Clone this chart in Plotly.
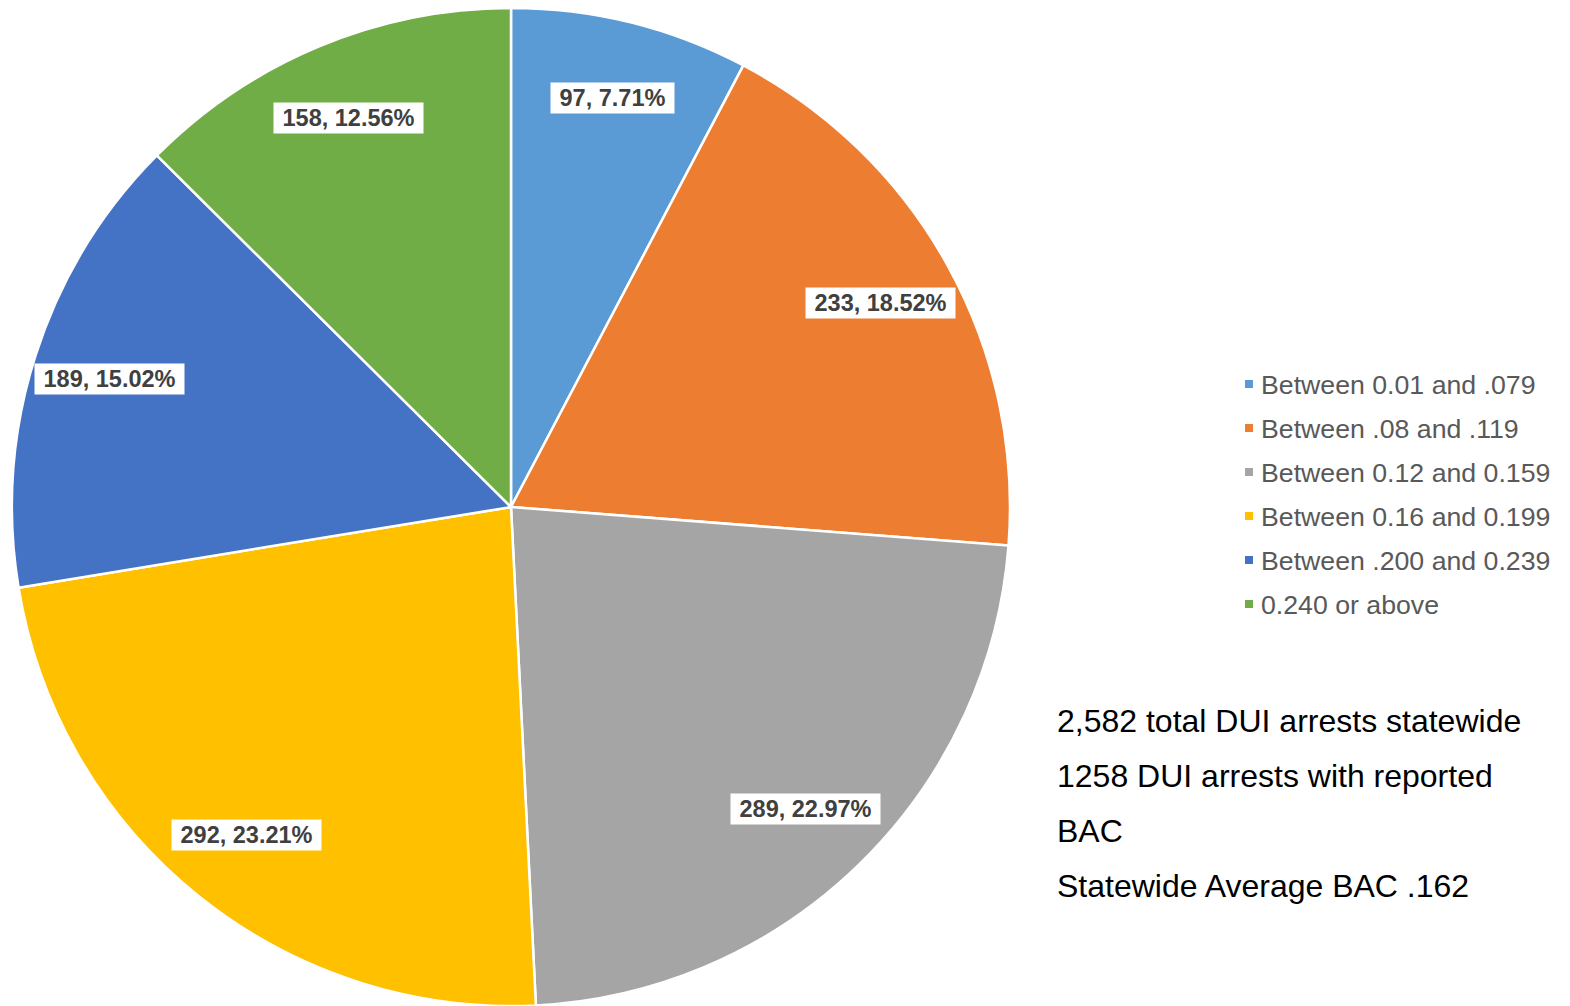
import math
import plotly.graph_objects as go

categories = ["Between 0.01 and .079", "Between .08 and .119", "Between 0.12 and 0.159",
              "Between 0.16 and 0.199", "Between .200 and 0.239", "0.240 or above"]
counts = [97, 233, 289, 292, 189, 158]
colors = ["#5B9BD5", "#ED7D31", "#A5A5A5", "#FFC000", "#4472C4", "#70AD47"]
notes = ["2,582 total DUI arrests statewide", "1258 DUI arrests with reported",
         "BAC", "Statewide Average BAC .162"]

OFF = 8  # page body margin
W, H = 1570 - OFF, 1006 - OFF
R = H / 2
cx, cy = 511 - OFF, H / 2  # pixel centre of pie (figure coords)
FONT = "Liberation Sans, Arial"

fig = go.Figure(go.Pie(
    labels=categories, values=counts, sort=False, direction="clockwise", rotation=0,
    marker=dict(colors=colors, line=dict(color="white", width=2.5)),
    textinfo="none", hoverinfo="label+value+percent", showlegend=False,
    domain=dict(x=[(cx - R) / W, (cx + R) / W], y=[0, 1]),
))

annotations = []
total = sum(counts)
cum = 0
for v in counts:
    mid = (cum + v / 2) / total * 2 * math.pi
    cum += v
    r = 0.845 * R
    px = cx + r * math.sin(mid)
    py = cy - r * math.cos(mid)
    annotations.append(dict(
        x=px / W, y=1 - py / H, xref="paper", yref="paper", showarrow=False,
        text=f"&nbsp;<b>{v}, {v / total * 100:.2f}%</b>&nbsp;",
        font=dict(family=FONT, size=23.5, color="#404040"),
        bgcolor="white", borderpad=2, xanchor="center", yanchor="middle"))

# legend (manual, to reproduce spacing)
shapes = []
for i, (lab, col) in enumerate(zip(categories, colors)):
    yc = 384 - OFF + 44 * i
    shapes.append(dict(type="rect", xref="paper", yref="paper",
                       x0=(1245 - OFF) / W, x1=(1253 - OFF) / W,
                       y0=1 - (yc + 4) / H, y1=1 - (yc - 4) / H,
                       fillcolor=col, line=dict(width=0)))
    annotations.append(dict(x=(1259 - OFF) / W, y=1 - (yc + 1) / H, xref="paper", yref="paper",
                            showarrow=False, text=lab, xanchor="left", yanchor="middle",
                            font=dict(family=FONT, size=26.7, color="#595959")))

for i, t in enumerate(notes):
    yc = 720 - OFF + 55 * i
    annotations.append(dict(x=(1055 - OFF) / W, y=1 - (yc + 1) / H, xref="paper", yref="paper",
                            showarrow=False, text=t, xanchor="left", yanchor="middle",
                            font=dict(family=FONT, size=32, color="black")))

fig.update_layout(width=W, height=H, margin=dict(l=0, r=0, t=0, b=0),
                  paper_bgcolor="white", plot_bgcolor="white",
                  annotations=annotations, shapes=shapes)
fig.write_html("out.html")
